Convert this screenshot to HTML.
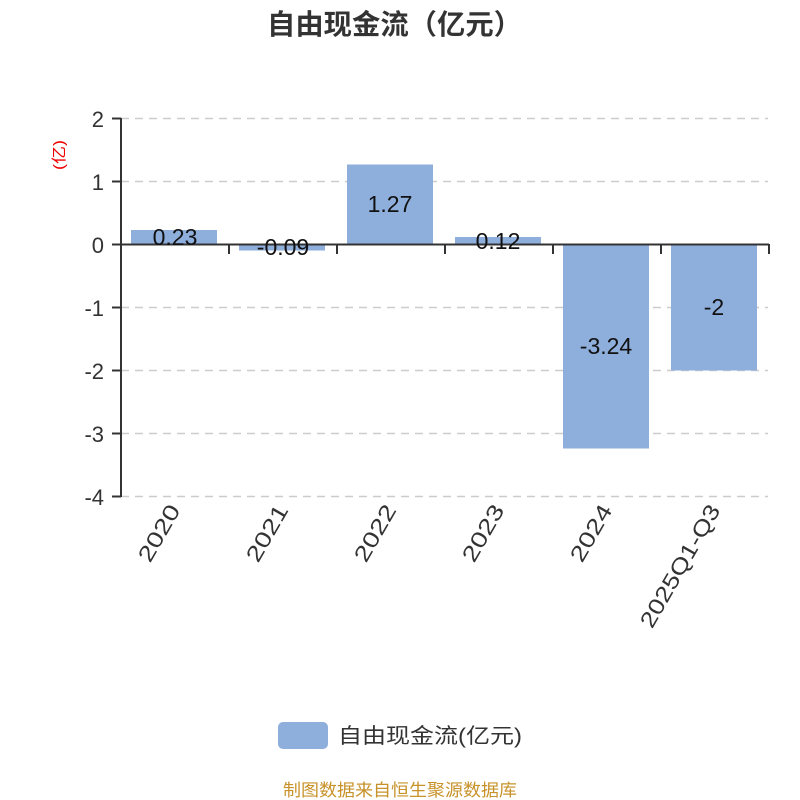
<!DOCTYPE html>
<html><head><meta charset="utf-8"><style>
html,body{margin:0;padding:0;background:#fff}
svg{display:block;font-family:"Liberation Sans","Noto Sans CJK SC",sans-serif}
</style></head><body>
<svg width="800" height="800" viewBox="0 0 800 800" xmlns="http://www.w3.org/2000/svg">
<text x="267" y="34" textLength="255" lengthAdjust="spacingAndGlyphs" font-size="28" font-weight="bold" fill="#333">自由现金流（亿元）</text>
<text transform="translate(64,155) rotate(-90)" text-anchor="middle" font-size="15" fill="#e00" textLength="30" lengthAdjust="spacingAndGlyphs">(亿)</text>
<g stroke="#ccc" stroke-width="1.5" stroke-dasharray="8,6">
<line x1="121" y1="118.5" x2="768" y2="118.5"/>
<line x1="121" y1="181.5" x2="768" y2="181.5"/>
<line x1="121" y1="307.5" x2="768" y2="307.5"/>
<line x1="121" y1="370.5" x2="768" y2="370.5"/>
<line x1="121" y1="433.5" x2="768" y2="433.5"/>
<line x1="121" y1="496.5" x2="768" y2="496.5"/>
</g>
<g fill="#8eaedb">
<rect x="131" y="230" width="86" height="14.5"/>
<rect x="239" y="244.5" width="86" height="6"/>
<rect x="347" y="164.5" width="86" height="80"/>
<rect x="455" y="237" width="86" height="7.5"/>
<rect x="563" y="244.5" width="86" height="204"/>
<rect x="671" y="244.5" width="86" height="126"/>
</g>
<g stroke="#333" stroke-width="2" fill="none">
<line x1="121" y1="118" x2="121" y2="497"/>
<line x1="112" y1="118.5" x2="121" y2="118.5"/>
<line x1="112" y1="181.5" x2="121" y2="181.5"/>
<line x1="112" y1="244.5" x2="121" y2="244.5"/>
<line x1="112" y1="307.5" x2="121" y2="307.5"/>
<line x1="112" y1="370.5" x2="121" y2="370.5"/>
<line x1="112" y1="433.5" x2="121" y2="433.5"/>
<line x1="112" y1="496.5" x2="121" y2="496.5"/>
<line x1="121" y1="244.5" x2="769" y2="244.5"/>
<line x1="229" y1="244" x2="229" y2="254"/>
<line x1="337" y1="244" x2="337" y2="254"/>
<line x1="445" y1="244" x2="445" y2="254"/>
<line x1="553" y1="244" x2="553" y2="254"/>
<line x1="661" y1="244" x2="661" y2="254"/>
<line x1="769" y1="244" x2="769" y2="254"/>
</g>
<g font-size="22" fill="#333" text-anchor="end">
<text x="104" y="127">2</text>
<text x="104" y="190">1</text>
<text x="104" y="253">0</text>
<text x="104" y="316">-1</text>
<text x="104" y="379">-2</text>
<text x="104" y="442">-3</text>
<text x="104" y="505">-4</text>
</g>
<g font-size="23" fill="#111" text-anchor="middle">
<text x="175" y="245">0.23</text>
<text x="283" y="255">-0.09</text>
<text x="390" y="212">1.27</text>
<text x="498" y="249">0.12</text>
<text x="606" y="354">-3.24</text>
<text x="714" y="315">-2</text>
</g>
<g font-size="22" fill="#333" text-anchor="end">
<text transform="translate(181,510) rotate(-60)" textLength="62" lengthAdjust="spacingAndGlyphs">2020</text>
<text transform="translate(289,510) rotate(-60)" textLength="62" lengthAdjust="spacingAndGlyphs">2021</text>
<text transform="translate(397,510) rotate(-60)" textLength="62" lengthAdjust="spacingAndGlyphs">2022</text>
<text transform="translate(505,510) rotate(-60)" textLength="62" lengthAdjust="spacingAndGlyphs">2023</text>
<text transform="translate(613,510) rotate(-60)" textLength="62" lengthAdjust="spacingAndGlyphs">2024</text>
<text transform="translate(721,510) rotate(-60)" textLength="138" lengthAdjust="spacingAndGlyphs">2025Q1-Q3</text>
</g>
<rect x="278" y="722" width="50" height="27" rx="5" fill="#8eaedb"/>
<text x="338" y="743" font-size="21" fill="#333" textLength="184" lengthAdjust="spacingAndGlyphs">自由现金流(亿元)</text>
<text x="283" y="796" font-size="17" fill="#c8922a" textLength="234" lengthAdjust="spacingAndGlyphs">制图数据来自恒生聚源数据库</text>
</svg>
</body></html>
